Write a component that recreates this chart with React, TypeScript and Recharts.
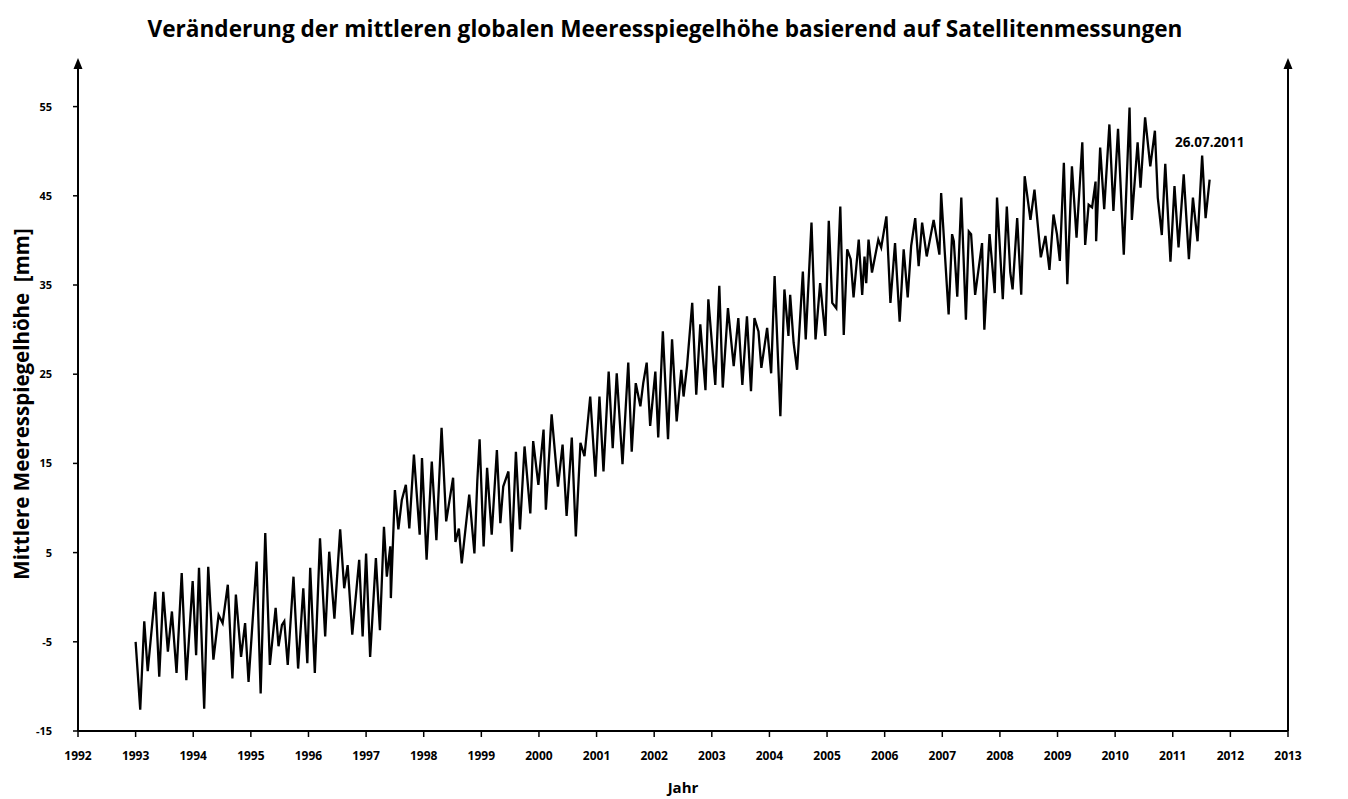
import React from "react";
import { LineChart, Line, XAxis, YAxis, ReferenceDot } from "recharts";

// vertices of the sea level curve (year, mm)
const years = [
  1993.0, 1993.08, 1993.15, 1993.21, 1993.34, 1993.41, 1993.48, 1993.56, 1993.63, 1993.71,
  1993.8, 1993.88, 1993.99, 1994.05, 1994.1, 1994.19, 1994.26, 1994.35, 1994.44, 1994.51,
  1994.6, 1994.68, 1994.74, 1994.83, 1994.9, 1994.96, 1995.1, 1995.17, 1995.25, 1995.33,
  1995.43, 1995.48, 1995.54, 1995.58, 1995.64, 1995.74, 1995.82, 1995.91, 1995.98, 1996.03,
  1996.11, 1996.2, 1996.29, 1996.36, 1996.45, 1996.55, 1996.62, 1996.68, 1996.76, 1996.88,
  1996.94, 1997.0, 1997.07, 1997.17, 1997.24, 1997.31, 1997.36, 1997.42, 1997.43, 1997.5,
  1997.56, 1997.62, 1997.69, 1997.75, 1997.83, 1997.93, 1997.97, 1998.05, 1998.14, 1998.22,
  1998.31, 1998.39, 1998.51, 1998.55, 1998.61, 1998.66, 1998.79, 1998.88, 1998.93, 1998.97,
  1999.04, 1999.1, 1999.18, 1999.27, 1999.33, 1999.38, 1999.47, 1999.53, 1999.6, 1999.67,
  1999.75, 1999.79, 1999.85, 1999.9, 1999.99, 2000.08, 2000.12, 2000.22, 2000.33, 2000.41,
  2000.48, 2000.57, 2000.64, 2000.72, 2000.79, 2000.89, 2000.98, 2001.05, 2001.12, 2001.21,
  2001.28, 2001.35, 2001.45, 2001.55, 2001.61, 2001.68, 2001.76, 2001.81, 2001.87, 2001.93,
  2002.02, 2002.07, 2002.15, 2002.24, 2002.31, 2002.39, 2002.47, 2002.51, 2002.57, 2002.66,
  2002.73, 2002.8, 2002.89, 2002.94, 2003.06, 2003.13, 2003.19, 2003.28, 2003.38, 2003.46,
  2003.53, 2003.61, 2003.68, 2003.74, 2003.81, 2003.86, 2003.96, 2004.03, 2004.09, 2004.19,
  2004.26, 2004.33, 2004.36, 2004.42, 2004.48, 2004.58, 2004.63, 2004.73, 2004.8, 2004.88,
  2004.97, 2005.03, 2005.09, 2005.16, 2005.23, 2005.29, 2005.35, 2005.41, 2005.46, 2005.55,
  2005.61, 2005.65, 2005.68, 2005.72, 2005.78, 2005.89, 2005.94, 2006.03, 2006.1, 2006.18,
  2006.26, 2006.33, 2006.4, 2006.46, 2006.53, 2006.59, 2006.65, 2006.73, 2006.85, 2006.95,
  2006.98, 2007.11, 2007.17, 2007.2, 2007.26, 2007.33, 2007.41, 2007.46, 2007.5, 2007.57,
  2007.69, 2007.73, 2007.82, 2007.91, 2007.95, 2008.05, 2008.12, 2008.18, 2008.22, 2008.3,
  2008.37, 2008.43, 2008.53, 2008.6, 2008.71, 2008.79, 2008.86, 2008.93, 2008.99, 2009.04,
  2009.11, 2009.17, 2009.25, 2009.33, 2009.43, 2009.48, 2009.54, 2009.6, 2009.66, 2009.67,
  2009.74, 2009.81, 2009.9, 2009.97, 2010.05, 2010.15, 2010.25, 2010.29, 2010.39, 2010.44,
  2010.52, 2010.61, 2010.69, 2010.74, 2010.81, 2010.87, 2010.96, 2011.03, 2011.1, 2011.19,
  2011.28, 2011.35, 2011.43, 2011.51, 2011.57, 2011.64,
];

const seaLevel = [
  -5.0, -12.6, -2.7, -8.3, 0.6, -8.9, 0.6, -6.1, -1.6, -8.5,
  2.7, -9.3, 1.8, -6.5, 3.3, -12.5, 3.4, -7.0, -2.0, -2.9,
  1.4, -9.1, 0.3, -6.7, -2.9, -9.5, 4.0, -10.8, 7.2, -7.6,
  -1.2, -5.5, -3.1, -2.7, -7.6, 2.3, -8.0, 1.0, -7.4, 3.3,
  -8.5, 6.6, -4.4, 5.1, -2.4, 7.6, 1.0, 3.6, -4.2, 4.2,
  -4.4, 4.9, -6.7, 4.4, -3.7, 7.9, 2.3, 5.7, -0.1, 12.0,
  7.6, 10.9, 12.6, 7.7, 16.0, 7.0, 15.6, 4.2, 15.2, 6.4,
  19.0, 8.5, 13.4, 6.2, 7.7, 3.8, 11.5, 4.9, 13.0, 17.7,
  5.7, 14.5, 7.0, 16.5, 8.3, 12.4, 14.1, 5.1, 16.3, 7.6,
  16.9, 13.9, 9.4, 17.5, 12.6, 18.8, 9.8, 20.5, 12.4, 17.1,
  9.1, 17.9, 6.8, 17.3, 15.8, 22.5, 13.5, 22.5, 14.1, 25.3,
  16.7, 25.1, 14.9, 26.3, 16.3, 24.0, 21.4, 24.0, 26.3, 19.2,
  25.3, 17.9, 29.8, 17.7, 28.9, 19.7, 25.5, 22.5, 25.9, 33.0,
  22.7, 30.6, 23.2, 33.4, 23.8, 34.9, 23.5, 32.4, 25.9, 31.3,
  23.8, 31.5, 23.1, 31.3, 29.8, 25.7, 30.2, 25.1, 36.0, 20.3,
  34.5, 29.3, 33.9, 28.5, 25.5, 36.5, 28.9, 42.0, 28.9, 35.2,
  29.3, 42.2, 33.0, 32.4, 43.8, 29.4, 39.0, 37.9, 33.6, 40.1,
  33.9, 38.2, 35.2, 40.1, 36.4, 40.1, 39.2, 42.7, 33.0, 39.7,
  30.9, 39.0, 33.6, 39.4, 42.5, 37.1, 42.0, 38.2, 42.3, 38.4,
  45.3, 31.7, 40.7, 39.9, 33.7, 44.8, 31.1, 41.0, 40.7, 33.9,
  39.7, 30.0, 40.7, 34.1, 44.8, 33.4, 43.8, 36.4, 34.5, 42.5,
  33.9, 47.2, 42.3, 45.7, 38.1, 40.5, 36.7, 42.9, 40.7, 37.7,
  48.7, 35.1, 48.3, 40.3, 51.0, 39.5, 44.0, 43.7, 46.6, 39.9,
  50.4, 43.5, 53.0, 43.3, 52.5, 38.4, 54.9, 42.3, 51.0, 45.9,
  53.8, 48.3, 52.3, 44.8, 40.6, 48.6, 37.6, 46.1, 39.2, 47.4,
  37.9, 44.8, 39.9, 49.5, 42.5, 46.8,
];

const yearTicks = [
  1992, 1993, 1994, 1995, 1996, 1997, 1998, 1999, 2000, 2001, 2002,
  2003, 2004, 2005, 2006, 2007, 2008, 2009, 2010, 2011, 2012, 2013,
];
const levelTicks = [-15, -5, 5, 15, 25, 35, 45, 55];
const levelDomain = [-15, 60];
const lastDate = "26.07.2011";

const data = years.map((year, i) => ({ year, level: seaLevel[i] }));
const last = data[data.length - 1];

const FONT = "'Open Sans', Lato, sans-serif";
const tickStyle = { fill: "#000", fontSize: 11, fontWeight: 700, fontFamily: FONT };

// arrow head on top of the y axes
const Arrow = (props: any) => {
  const { cx, cy } = props;
  return <polygon points={`${cx},${cy - 4} ${cx - 4.5},${cy + 7} ${cx + 4.5},${cy + 7}`} fill="#000" />;
};

export default function App() {
  return (
    <div style={{ position: "relative", width: 1348, height: 799, background: "#fff", fontFamily: FONT }}>
      <style>{`body{margin:0}`}</style>
      <div
        style={{
          position: "absolute",
          top: 13,
          left: 0,
          width: 1330,
          textAlign: "center",
          fontSize: 22.6,
          fontWeight: 700,
          color: "#000",
        }}
      >
        Veränderung der mittleren globalen Meeresspiegelhöhe basierend auf Satellitenmessungen
      </div>
      <div
        style={{
          position: "absolute",
          left: 21,
          top: 404,
          transform: "translate(-50%, -50%) rotate(-90deg)",
          whiteSpace: "nowrap",
          fontSize: 20.5,
          fontWeight: 700,
          color: "#000",
        }}
      >
        Mittlere Meeresspiegelhöhe&nbsp; [mm]
      </div>
      <LineChart width={1348} height={799} data={data} margin={{ top: 62, right: 10, bottom: 6, left: 18 }}>
        <XAxis
          dataKey="year"
          type="number"
          domain={[1992, 2013]}
          ticks={yearTicks}
          interval={0}
          allowDataOverflow
          tick={{ ...tickStyle, fontSize: 12 }}
          tickSize={6}
          tickMargin={14}
          height={62}
          axisLine={{ stroke: "#000", strokeWidth: 2 }}
          tickLine={{ stroke: "#000", strokeWidth: 1.5 }}
          label={{ value: "Jahr", position: "insideBottom", offset: 0, fill: "#000", fontSize: 15, fontWeight: 700, fontFamily: FONT }}
        />
        <YAxis
          yAxisId="left"
          domain={levelDomain}
          ticks={levelTicks}
          interval={0}
          width={60}
          tick={tickStyle}
          tickSize={5}
          tickMargin={21}
          axisLine={{ stroke: "#000", strokeWidth: 2 }}
          tickLine={{ stroke: "#000", strokeWidth: 1.5 }}
        />
        <YAxis
          yAxisId="right"
          orientation="right"
          domain={levelDomain}
          ticks={levelTicks}
          interval={0}
          width={50}
          tick={tickStyle}
          tickSize={5}
          tickMargin={4}
          axisLine={{ stroke: "#000", strokeWidth: 2 }}
          tickLine={{ stroke: "#000", strokeWidth: 1.5 }}
        />
        <Line
          yAxisId="left"
          type="linear"
          dataKey="level"
          stroke="#000"
          strokeWidth={2.3}
          dot={false}
          isAnimationActive={false}
        />
        <ReferenceDot
          yAxisId="left"
          x={last.year}
          y={last.level}
          r={0}
          fill="none"
          stroke="none"
          ifOverflow="visible"
          label={{ value: lastDate, position: "top", offset: 33, fill: "#000", fontSize: 13.5, fontWeight: 700, fontFamily: FONT }}
        />
        <ReferenceDot yAxisId="left" x={1992} y={60} r={5} ifOverflow="visible" shape={Arrow} />
        <ReferenceDot yAxisId="left" x={2013} y={60} r={5} ifOverflow="visible" shape={Arrow} />
      </LineChart>
    </div>
  );
}
